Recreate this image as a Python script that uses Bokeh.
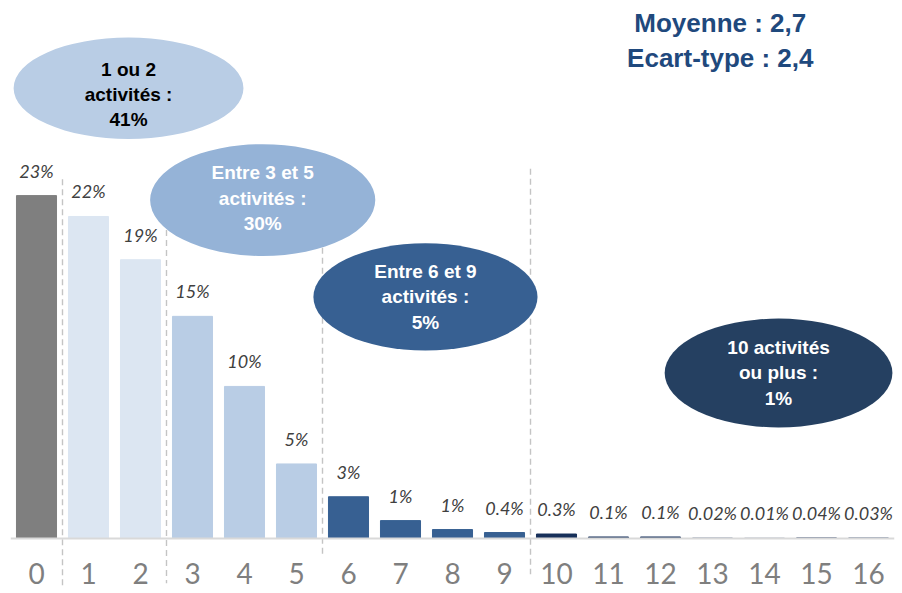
from bokeh.plotting import figure
from bokeh.models import Range1d, FixedTicker, ColumnDataSource
from bokeh.core.properties import value
from bokeh.embed import file_html
from bokeh.resources import INLINE

# ---------------- data ----------------
categories = list(range(17))
tick_labels = [str(c) for c in categories]
values = [23, 21.6, 18.7, 14.9, 10.2, 5.0, 2.8, 1.2, 0.6, 0.4, 0.3, 0.1, 0.1, 0.02, 0.01, 0.04, 0.03]
value_labels = ["23%", "22%", "19%", "15%", "10%", "5%", "3%", "1%", "1%", "0.4%",
                "0.3%", "0.1%", "0.1%", "0.02%", "0.01%", "0.04%", "0.03%"]
group_of = [0, 1, 1, 2, 2, 2, 3, 3, 3, 3, 4, 4, 4, 4, 4, 4, 4]

group_texts = ["1 ou 2\nactivités :\n41%",
               "Entre 3 et 5\nactivités :\n30%",
               "Entre 6 et 9\nactivités :\n5%",
               "10 activités\nou plus :\n1%"]
stats_texts = ["Moyenne : 2,7", "Ecart-type : 2,4"]

# ---------------- styles ----------------
bar_palette = ["#7f7f7f", "#dce6f2", "#b9cde5", "#376092", "#17305a"]
ell_colors = ["#b9cde5", "#95b3d7", "#376092", "#254061"]
ell_text_colors = ["#000000", "#ffffff", "#ffffff", "#ffffff"]
ell_x = [1.77, 4.35, 7.48, 14.27]
ell_y = [30.2, 22.7, 16.2, 11.1]
ell_w = [4.42, 4.33, 4.31, 4.38]
ell_h = [6.8, 7.5, 7.2, 7.3]
ell_text_dy = [6, -2, 0, 0]

sep_x = [0.5, 2.5, 5.5, 9.5]
sep_y0 = [24.1, 20.7, 19.5, 24.8]
sep_y1 = [-3.2, -3.0, -1.2, -2.4]

p = figure(width=900, height=593, output_backend="svg", toolbar_location=None,
           x_range=Range1d(-0.5, 16.5), y_range=Range1d(-3.69, 35.55),
           y_axis_location=None, x_axis_location="below",
           min_border_left=10, min_border_right=6, min_border_top=8, min_border_bottom=0)
p.outline_line_color = None
p.grid.visible = False
p.background_fill_color = "white"

# separators
p.segment(x0=sep_x, y0=sep_y0, x1=sep_x, y1=sep_y1, line_color="#c4c4c4",
          line_width=1.4, line_dash="6 4")

src = ColumnDataSource(dict(x=categories, top=values, lab=value_labels,
                            color=[bar_palette[g] for g in group_of]))
p.vbar(x="x", top="top", bottom=0, width=0.77, color="color", source=src)

p.text(x="x", y="top", text="lab", source=src, text_align="center",
       text_baseline="alphabetic", y_offset=-25, text_font=value("Lato"),
       text_font_style="italic", text_font_size="18px", text_color="#404040")

# group ellipses
for i in range(4):
    p.ellipse(x=[ell_x[i]], y=[ell_y[i]], width=[ell_w[i]], height=[ell_h[i]],
              fill_color=ell_colors[i], line_color=None)
    p.text(x=[ell_x[i]], y=[ell_y[i]], text=[group_texts[i]], text_align="center",
           text_baseline="middle", y_offset=ell_text_dy[i],
           text_font=value("Liberation Sans"),
           text_font_style="bold", text_font_size="19px",
           text_line_height=1.2, text_color=ell_text_colors[i])

p.text(x=[13.15, 13.15], y=[34.6, 32.25], text=stats_texts, text_align="center",
       text_baseline="middle", text_font=value("Liberation Sans"),
       text_font_style="bold", text_font_size="26px", text_color="#1f497d")

ax = p.xaxis[0]
ax.fixed_location = 0
ax.ticker = FixedTicker(ticks=categories)
ax.major_label_overrides = {c: t for c, t in zip(categories, tick_labels)}
ax.axis_line_color = "#d9d9d9"
ax.axis_line_width = 2
ax.major_tick_line_color = None
ax.minor_tick_line_color = None
ax.major_label_standoff = 19
ax.major_label_text_font = "Lato"
ax.major_label_text_font_size = "28px"
ax.major_label_text_color = "#7f7f7f"

open("out.html", "w").write(file_html(p, INLINE))
